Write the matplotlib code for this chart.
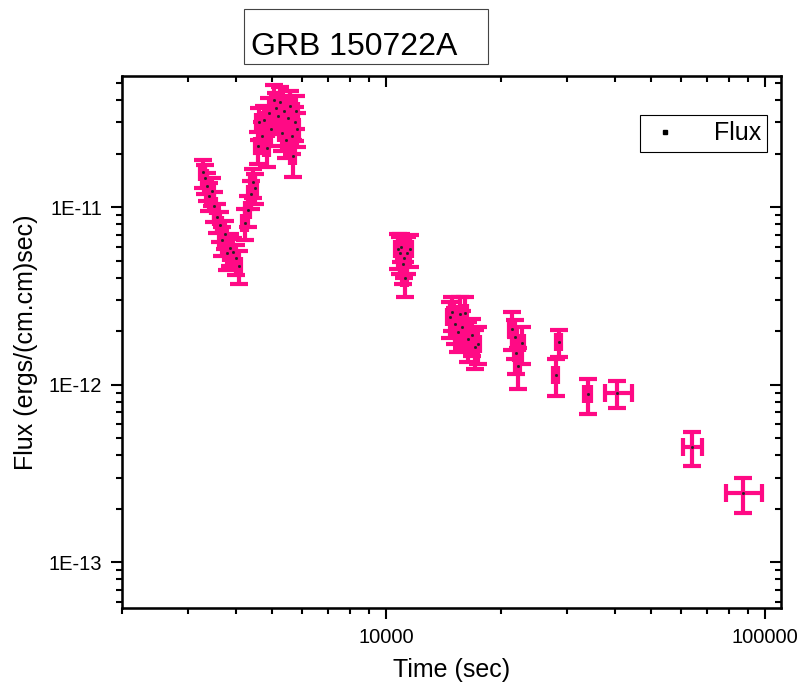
import matplotlib.pyplot as plt
from matplotlib.lines import Line2D
from matplotlib.patches import Rectangle
from matplotlib.ticker import LogLocator, NullFormatter, FixedLocator, FixedFormatter
import numpy as np

plt.rcParams['font.family'] = ['Liberation Sans', 'DejaVu Sans']

# time (s), flux (1e-11 erg/cm^2/s), flux error, time error (lo / hi)
time = [
    3276, 3316, 3357, 3398, 3460, 3503, 3565, 3632, 3677, 3744, 3790, 3860, 3930, 4003, 4077,
    4228, 4305, 4385, 4438, 4493, 4576, 4604, 4688, 4745, 4833, 4893, 4952, 5042, 5104, 5165,
    5229, 5292, 5358, 5423, 5489, 5556, 5626, 5660, 5728, 5799, 5764,
    10710, 10840, 10950, 11040, 11100, 11180, 11310, 11520,
    14690, 14900, 15140, 15420, 15600, 15800, 16090, 16390, 16800, 17100, 17410,
    21410, 21800, 22000, 22200, 22750,
    28500, 27990,
    33960, 40510, 63900, 87200,
]
flux = [
    1.57, 1.45, 1.32, 1.16, 1.24, 1.02, 0.875, 0.79, 0.65, 0.71, 0.55, 0.585, 0.556, 0.514, 0.469,
    0.81, 0.96, 1.19, 1.38, 1.29, 2.20, 3.00, 2.53, 3.08, 2.14, 3.41, 2.77, 3.99, 3.60, 3.28,
    3.89, 2.63, 3.50, 2.38, 3.16, 3.69, 2.53, 1.93, 3.00, 2.77, 3.50,
    0.58, 0.55, 0.60, 0.48, 0.52, 0.40, 0.55, 0.58,
    0.239, 0.255, 0.22, 0.197, 0.25, 0.21, 0.252, 0.18, 0.19, 0.162, 0.17,
    0.207, 0.185, 0.15, 0.128, 0.171,
    0.173, 0.113,
    0.0882, 0.0893, 0.0444, 0.0244,
]
flux_err = [
    0.28, 0.27, 0.24, 0.21, 0.22, 0.19, 0.16, 0.15, 0.12, 0.13, 0.11, 0.12, 0.11, 0.10, 0.10,
    0.16, 0.19, 0.22, 0.26, 0.25, 0.45, 0.60, 0.50, 0.65, 0.45, 0.70, 0.55, 0.90, 0.80, 0.70,
    0.85, 0.55, 0.75, 0.50, 0.70, 0.80, 0.55, 0.45, 0.65, 0.60, 0.75,
    0.13, 0.13, 0.11, 0.11, 0.12, 0.09, 0.13, 0.12,
    0.055, 0.055, 0.05, 0.045, 0.06, 0.05, 0.06, 0.045, 0.045, 0.04, 0.04,
    0.05, 0.045, 0.035, 0.033, 0.04,
    0.03, 0.027,
    0.02, 0.015, 0.0095, 0.0055,
]
time_err_lo = [
    48, 49, 50, 50, 51, 52, 53, 54, 54, 55, 56, 57, 58, 59, 60,
    62, 63, 64, 65, 66, 67, 68, 69, 70, 71, 72, 73, 74, 75, 76,
    77, 78, 79, 80, 81, 82, 83, 83, 84, 85, 85,
    160, 160, 162, 163, 164, 165, 167, 170,
    215, 220, 223, 227, 230, 233, 237, 241, 247, 252, 256,
    315, 320, 323, 327, 335,
    420, 412,
    700, 2840, 3400, 8600,
]
time_err_hi = [
    48, 49, 50, 50, 51, 52, 53, 54, 54, 55, 56, 57, 58, 59, 60,
    62, 63, 64, 65, 66, 67, 68, 69, 70, 71, 72, 73, 74, 75, 76,
    77, 78, 79, 80, 81, 82, 83, 83, 84, 85, 85,
    160, 160, 162, 163, 164, 165, 167, 170,
    215, 220, 223, 227, 230, 233, 237, 241, 247, 252, 256,
    315, 320, 323, 327, 335,
    420, 412,
    700, 3860, 4000, 10600,
]
UNIT = 1e-11

pink = "#FF0A85"

fig = plt.figure(figsize=(8.02, 6.9), dpi=100)
ax = fig.add_axes([0.1517, 0.1184, 0.8221, 0.7719])

t = np.array(time)
f = np.array(flux) * UNIT
fe = np.array(flux_err) * UNIT
ax.errorbar(t, f, yerr=fe, xerr=[time_err_lo, time_err_hi], fmt="none",
            ecolor=pink, elinewidth=3, capsize=6.5, capthick=3, zorder=2)
ax.plot(t, f, ls="none", marker="s", ms=1.0, color="#222222", zorder=3)

ax.set_xscale("log")
ax.set_yscale("log")
ax.set_xlim(2000, 110000)
ax.set_ylim(5.5e-14, 5.5e-11)

ax.xaxis.set_major_locator(FixedLocator([10000, 100000]))
ax.xaxis.set_major_formatter(FixedFormatter(["10000", "100000"]))
ax.xaxis.set_minor_locator(LogLocator(base=10, subs=np.arange(2, 10), numticks=20))
ax.xaxis.set_minor_formatter(NullFormatter())
ax.yaxis.set_major_locator(FixedLocator([1e-13, 1e-12, 1e-11]))
ax.yaxis.set_major_formatter(FixedFormatter(["1E-13", "1E-12", "1E-11"]))
ax.yaxis.set_minor_locator(LogLocator(base=10, subs=np.arange(2, 10), numticks=20))
ax.yaxis.set_minor_formatter(NullFormatter())

ax.tick_params(which="major", direction="out", length=8, width=1.5, labelsize=14.5, pad=6)
ax.tick_params(which="minor", direction="out", length=4.5, width=1.5)
for s in ax.spines.values():
    s.set_linewidth(1.8)

# mirrored ticks on top and right, pointing inward
axt = ax.twiny()
axt.set_xscale("log")
axt.set_xlim(ax.get_xlim())
axt.xaxis.set_major_locator(FixedLocator([10000, 100000]))
axt.xaxis.set_minor_locator(LogLocator(base=10, subs=np.arange(2, 10), numticks=20))
axt.tick_params(which="both", direction="in", labeltop=False, width=1.5)
axt.tick_params(which="major", length=8)
axt.tick_params(which="minor", length=4.5)
axr = ax.twinx()
axr.set_yscale("log")
axr.set_ylim(ax.get_ylim())
axr.yaxis.set_major_locator(FixedLocator([1e-13, 1e-12, 1e-11]))
axr.yaxis.set_minor_locator(LogLocator(base=10, subs=np.arange(2, 10), numticks=20))
axr.tick_params(which="both", direction="in", labelright=False, width=1.5)
axr.tick_params(which="major", length=8)
axr.tick_params(which="minor", length=4.5)

ax.set_xlabel("Time (sec)", fontsize=18, labelpad=8)
ax.set_ylabel("Flux (ergs/(cm.cm)sec)", fontsize=18, labelpad=8)

handle = Line2D([], [], ls="none", marker="s", ms=3, color="black")
leg = ax.legend([handle], ["Flux"], loc="upper right", bbox_to_anchor=(0.979, 0.926),
                borderaxespad=0, fontsize=18, fancybox=False, framealpha=1,
                edgecolor="black", handlelength=1.5, handletextpad=1.2,
                borderpad=0.25)
leg.get_frame().set_linewidth(0.8)

# title box
fig.patches.append(Rectangle((0.3037, 0.9078), 0.3047, 0.0791, transform=fig.transFigure,
                             fill=False, edgecolor="#444444", linewidth=0.8))
fig.text(0.313, 0.9203, "GRB 150722A", fontsize=23, va="baseline", ha="left")

fig.savefig("out.png", dpi=100)
